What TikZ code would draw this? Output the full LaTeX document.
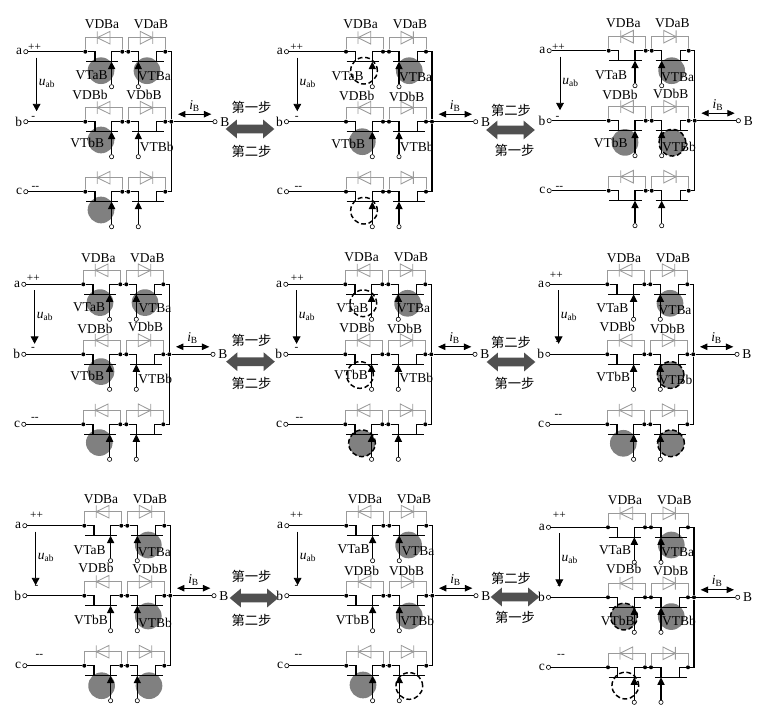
\documentclass[tikz,border=0pt]{standalone}
\usepackage{fontspec}
\setmainfont{Liberation Serif}
\newfontfamily\cjk{Noto Sans CJK SC}
\usetikzlibrary{arrows.meta,shapes.arrows}

\definecolor{offgray}{HTML}{808080}
\definecolor{branchgray}{HTML}{9A9A9A}
\definecolor{stepgray}{HTML}{505050}

\tikzset{
  wire/.style={line width=0.8pt,black},
  branch/.style={line width=0.65pt,branchgray},
  jdot/.style={circle,fill=black,inner sep=0pt,minimum size=3pt},
  term/.style={circle,draw=black,fill=white,line width=0.45pt,inner sep=0pt,minimum size=3.2pt},
  gate/.style={wire,-{Triangle[length=5.6pt,width=5.4pt]}},
  volt/.style={line width=0.65pt,-{Triangle[length=5.5pt,width=5.8pt]}},
  curr/.style={line width=0.65pt,{Triangle[length=5.5pt,width=4.8pt]}-{Triangle[length=5.5pt,width=4.8pt]}},
  lab/.style={inner sep=0pt,font=\fontsize{10.1}{11}\selectfont},
  sign/.style={inner sep=0pt,font=\fontsize{8.5}{9}\selectfont},
  steplab/.style={inner sep=0pt,font=\cjk\fontsize{10}{11}\selectfont},
  stepdir/.style={shape=double arrow,fill=stepgray,inner sep=3.1pt,minimum height=36.5pt,
    double arrow head extend=3.75pt,double arrow tip angle=80},
  fon/.style={circle,fill=offgray,minimum size=20pt,inner sep=0pt},
  fdash/.style={circle,draw=black,dash pattern=on 3.6pt off 2pt,line width=1.1pt,minimum size=20pt,inner sep=0pt},
  fboth/.style={fon,fdash,fill=offgray},
}

% one bridge leg: two transistors with their diodes
\newcommand{\legrow}[1]{%
  \node[jdot] (#1l) at (0,0) {};
  \node[jdot] (#1m) at (37,0) {};
  \node[jdot] (#1n) at (43,0) {};
  \node[jdot] (#1r) at (80,0) {};
  \draw[branch] (#1l) |- (37,-14) -- (#1m);
  \draw[branch] (#1n) |- (80,-14) -- (#1r);
  \draw[branch] (12,-14) -- (24.7,-20.3) -- (24.7,-7.7) -- cycle (12,-20.3) -- (12,-7.7);
  \draw[branch] (67.4,-14) -- (55,-20.3) -- (55,-7.7) -- cycle (67.4,-20.3) -- (67.4,-7.7);
  \draw[wire] (#1m) -- (#1n);
  \coordinate (#1c) at (26.3,10);
  \coordinate (#1d) at (53,10);
  \draw[wire] (#1l) -| (9.7,10);
  \draw[wire] (#1m) -| (#1c);
  \draw[wire] (0.7,10) -- (33,10);
  \draw[wire] (#1n) -| (#1d);
  \draw[wire] (#1r) -| (71.4,10);
  \draw[wire] (47,10) -- (79,10);
  \node[term] (#1g) at (26.3,35) {};
  \node[term] (#1h) at (53,35) {};
  \draw[gate] (#1g) -- (#1c);
  \draw[gate] (#1h) -- (#1d);
}

% #1 name, #2 #3 place of the panel, #4 circles, #5 labels, #6 #7 #8 signs of a,b,c
\newcommand{\panel}[8]{%
  \begin{scope}[shift={(#2,#3)},name prefix=#1-]
    \foreach \st/\cx/\cy in {#4} \node[\st] at (\cx,\cy) {};
    \begin{scope} \legrow{a} \end{scope}
    \begin{scope}[shift={(0,70)}] \legrow{b} \end{scope}
    \begin{scope}[shift={(0,140)}] \legrow{c} \end{scope}
    \node[term] (ta) at (-59.5,0) {};
    \node[term] (tb) at (-59.5,70) {};
    \node[term] (tc) at (-59.5,140) {};
    \node[term] (tB) at (129.7,70) {};
    \node[jdot] (busb) at (86,70) {};
    \draw[wire] (ta) -- (al);
    \draw[wire] (tb) -- (bl);
    \draw[wire] (tc) -- (cl);
    \draw[wire] (ar) -| (busb);
    \draw[wire] (cr) -| (busb);
    \draw[wire] (br) -- (busb) -- (tB);
    \node[lab,left=0.8pt] (na) at (ta.west) {a};
    \node[lab,left=0.8pt] (nb) at (tb.west) {b};
    \node[lab,left=0.8pt] (nc) at (tc.west) {c};
    \node[lab,right=2pt] (nB) at (tB.east) {B};
    \coordinate (ua) at (-48.7,6);
    \coordinate (ub) at (-48.7,59.5);
    \draw[volt] (ua) -- (ub);
    \node[lab] (uab) at (-38.2,32) {\textit{u}\textsubscript{ab}};
    \coordinate (ia) at (92.7,62.5);
    \coordinate (ib) at (126,62.5);
    \draw[curr] (ia) -- (ib);
    \node[lab] (iB) at (109.3,54) {\textit{i}\textsubscript{B}};
    \foreach \t/\lx/\ly in {#5} \node[lab] (\t) at (\lx,\ly) {\t};
    \node[sign] (sa) at #6 {++};
    \node[sign] (sb) at #7 {-};
    \node[sign] (sc) at #8 {-{}-};
  \end{scope}
}

\begin{document}
\begin{tikzpicture}[x=0.75pt,y=-0.75pt]
\useasboundingbox (0,0) rectangle (772,723);

% first row
\panel{p11}{85.3}{51.7}{fon/15.7/19,fon/61.7/19,fon/15.7/88.3,fon/15.7/158.3}
  {VDBa/16.7/-27.7,VDaB/65.7/-27.7,VTaB/6.4/23.3,VTBa/69/24,
   VDBb/4.7/43.3,VDbB/58.7/43.3,VTbB/2/91.6,VTBb/71.4/95.6}
  {(-50.7,-4)}{(-52,66.7)}{(-50,136.7)}
\panel{p12}{346}{51.7}{fdash/18/19,fon/63.3/19,fon/16.3/90,fdash/18/159}
  {VDBa/14.7/-27.7,VDaB/64/-27.7,VTaB/1.7/24.3,VTBa/69.7/25,
   VDBb/10.7/44.3,VDbB/60.7/45,VTbB/2.3/92.3,VTBb/70.7/95}
  {(-49.3,-4)}{(-49.3,66.7)}{(-47.7,136)}
\panel{p13}{608.7}{50.7}{fon/63/20,fon/16.3/91.7,fboth/63.7/92}
  {VDBa/14.7/-27.3,VDaB/63.7/-27.3,VTaB/2.3/24.3,VTBa/69/26,
   VDBb/11.3/44,VDbB/62/43.3,VTbB/2/92.7,VTBb/70.3/96}
  {(-50.3,-3)}{(-51.3,67.7)}{(-49.3,137.7)}

% second row
\panel{p21}{83.3}{284.3}{fon/16.7/18.3,fon/61.7/18.3,fon/17.7/87.3,fon/16/158.3}
  {VDBa/15/-26.3,VDaB/64/-26.3,VTaB/5.7/23,VTBa/71.7/23.7,
   VDBb/11.7/44.3,VDbB/62.3/43,VTbB/4/91.7,VTBb/72/94.7}
  {(-50,-6)}{(-50.3,64.3)}{(-48.3,135)}
\panel{p22}{345.3}{284.3}{fdash/18/19,fon/62.3/19,fdash/14.7/90.7,fboth/16.7/159}
  {VDBa/16.3/-26.7,VDaB/65.7/-26.7,VTaB/7/23.7,VTBa/68.3/24.3,
   VDBb/11.7/43.7,VDbB/59.3/44.3,VTbB/5.7/91,VTBb/71/94}
  {(-48,-6)}{(-48.7,64.3)}{(-46,135)}
\panel{p23}{607.3}{284.3}{fon/62.7/19,fboth/63.3/90.7,fon/16/159,fboth/63.7/159}
  {VDBa/16.7/-26.3,VDaB/65.7/-26.3,VTaB/5/24.3,VTBa/67.7/26.3,
   VDBb/10/43,VDbB/60.3/44.3,VTbB/6/93,VTBb/68.3/95.7}
  {(-51,-9.3)}{(-49.7,59)}{(-49,131.3)}

% third row
\panel{p31}{84.3}{525.7}{fon/64/19.3,fon/64/90.3,fon/17.3/160,fon/64.7/160}
  {VDBa/16.7/-26.7,VDaB/65.7/-26.7,VTaB/5.3/24.3,VTBa/70/26.7,
   VDBb/11.7/42.7,VDbB/65.7/43.7,VTbB/6.7/94.3,VTBb/70.7/97}
  {(-47.7,-10.3)}{(-47.7,61)}{(-45,130)}
\panel{p32}{346.3}{525.7}{fon/62.3/19.3,fon/63/90.3,fon/16.7/159.3,fdash/63/160.3}
  {VDBa/18.7/-26.7,VDaB/67.7/-26.7,VTaB/7.3/23.7,VTBa/71.7/25,
   VDBb/15.3/45,VDbB/60.3/45,VTbB/6.3/94.3,VTBb/71/95}
  {(-49.7,-10.3)}{(-49.7,61)}{(-48,130)}
\panel{p33}{608}{527.3}{fon/63.3/17.7,fboth/16/89.3,fon/63.3/89.3,fdash/17.3/158.3}
  {VDBa/17/-27.3,VDaB/66.3/-27.3,VTaB/7/22.7,VTBa/69.7/24.7,
   VDBb/15.7/42,VDbB/62.7/44,VTbB/9.7/93.3,VTBb/71/94}
  {(-48.7,-12)}{(-48.7,60)}{(-47,128.7)}

% steps between the panels
\node[steplab] (s11) at (251.5,107.5) {第一步};
\node[stepdir] (d1) at (250,129) {};
\node[steplab] (s12) at (251.5,151) {第二步};
\node[steplab] (s13) at (511,110) {第二步};
\node[stepdir] (d2) at (510.5,130) {};
\node[steplab] (s14) at (514.5,150.7) {第一步};

\node[steplab] (s21) at (251.5,340) {第一步};
\node[stepdir] (d3) at (250.5,361.7) {};
\node[steplab] (s22) at (251.5,383) {第二步};
\node[steplab] (s23) at (511,342) {第二步};
\node[stepdir] (d4) at (511,362) {};
\node[steplab] (s24) at (514.5,383) {第一步};

\node[steplab] (s31) at (251.5,576) {第一步};
\node[stepdir] (d5) at (254,598) {};
\node[steplab] (s32) at (251.5,620) {第二步};
\node[steplab] (s33) at (511,578) {第二步};
\node[stepdir] (d6) at (515,597) {};
\node[steplab] (s34) at (515,617) {第一步};

\end{tikzpicture}
\end{document}
